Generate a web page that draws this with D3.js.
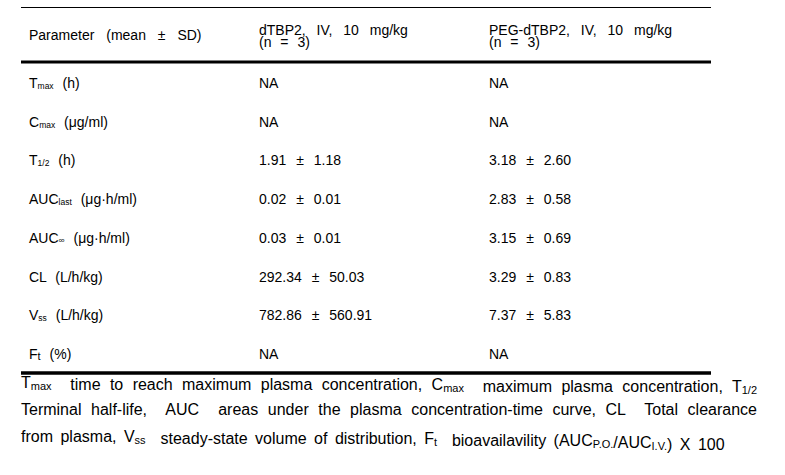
<!DOCTYPE html>
<html>
<head>
<meta charset="utf-8">
<script src="https://cdn.jsdelivr.net/npm/d3@7"></script>
<style>
  body { margin: 0; background: #fff; }
  text { font-family: "Liberation Sans", Arial, sans-serif; fill: #000; }
</style>
</head>
<body>
<div id="vis"></div>
<script>
// table content
var paramBase = ["T", "C", "T", "AUC", "AUC", "CL", "V", "F"];
var paramSub  = ["max", "max", "1/2", "last", "\u221e", "", "ss", "t"];
var paramUnit = ["(h)", "(\u03bcg/ml)", "(h)", "(\u03bcg\u00b7h/ml)", "(\u03bcg\u00b7h/ml)", "(L/h/kg)", "(L/h/kg)", "(%)"];
var dTBP2 = ["NA", "NA", "1.91 \u00b1 1.18", "0.02 \u00b1 0.01", "0.03 \u00b1 0.01", "292.34 \u00b1 50.03", "782.86 \u00b1 560.91", "NA"];
var pegTBP2 = ["NA", "NA", "3.18 \u00b1 2.60", "2.83 \u00b1 0.58", "3.15 \u00b1 0.69", "3.29 \u00b1 0.83", "7.37 \u00b1 5.83", "NA"];
var headers = [["Parameter (mean \u00b1 SD)"], ["dTBP2, IV, 10 mg/kg", "(n = 3)"], ["PEG-dTBP2, IV, 10 mg/kg", "(n = 3)"]];

// footnote lines: arrays of [text, isSub]
var noteLines = [
  [["T",0],["max",1],["  time to reach maximum plasma concentration, C",0],["max",1],["  maximum plasma concentration, T",0],["1/2",1]],
  [["Terminal half-life,  AUC  areas under the plasma concentration-time curve, CL  Total clearance",0]],
  [["from plasma, V",0],["ss",1],["  steady-state volume of distribution, F",0],["t",1],["  bioavailavility (AUC",0],["P.O.",1],["/AUC",0],["I.V.",1],[") X 100",0]]
];

var W = 785, H = 475;
var svg = d3.select("#vis").append("svg").attr("width", W).attr("height", H);

var colX = d3.scaleOrdinal().domain([0, 1, 2]).range([29, 259, 489]);
var rowY = d3.scaleLinear().domain([0, 7]).range([88, 359]);

// rules
svg.append("line").attr("x1", 21).attr("x2", 711).attr("y1", 7.5).attr("y2", 7.5)
    .attr("stroke", "#000").attr("stroke-width", 1);
svg.append("line").attr("x1", 21).attr("x2", 711).attr("y1", 62).attr("y2", 62)
    .attr("stroke", "#000").attr("stroke-width", 3);
svg.append("line").attr("x1", 21).attr("x2", 711).attr("y1", 373).attr("y2", 373)
    .attr("stroke", "#000").attr("stroke-width", 3.5);

// header
headers.forEach(function(h, i){
    var t = svg.append("text").attr("x", colX(i)).attr("font-size", 14)
        .style("word-spacing", i == 0 ? "8px" : "7px");
    if (h.length == 1) {
        t.attr("y", 40).text(h[0]);
    } else {
        t.attr("y", 35).text(h[0]);
        svg.append("text").attr("x", colX(i)).attr("y", 46.5).attr("font-size", 14)
            .style("word-spacing", "5px").text(h[1]);
    }
});

// rows
var rows = svg.selectAll("g.row").data(d3.range(paramBase.length)).enter()
    .append("g").attr("class", "row")
    .attr("transform", function(d){ return "translate(0," + rowY(d) + ")"; });

rows.each(function(d){
    var g = d3.select(this);
    var t = g.append("text").attr("x", colX(0)).attr("font-size", 14).style("word-spacing", "5px");
    t.append("tspan").text(paramBase[d]);
    if (paramSub[d] != "") {
        var inf = paramSub[d] == "\u221e";
        t.append("tspan").attr("font-size", paramSub[d] == "t" ? 11 : 8.5)
            .attr("dy", inf ? 0 : 1).text(paramSub[d]);
        t.append("tspan").attr("dy", inf ? 0 : -1).text(" " + paramUnit[d]);
    } else {
        t.append("tspan").text(" " + paramUnit[d]);
    }
    g.append("text").attr("x", colX(1)).attr("font-size", 14).style("word-spacing", "6px").text(dTBP2[d]);
    g.append("text").attr("x", colX(2)).attr("font-size", 14).style("word-spacing", "6px").text(pegTBP2[d]);
});

// footnote, first two lines justified
var note = svg.append("g").attr("class", "note");
var noteY = [388, 415, 442];
noteLines.forEach(function(line, i){
    var t = note.append("text").attr("x", 21).attr("y", noteY[i]).attr("font-size", 16)
        .attr("xml:space", "preserve");
    line.forEach(function(p){
        t.append("tspan").attr("font-size", p[1] ? 11 : 16)
            .attr("dy", p[1] ? 2 : 0)
            .text(p[0]);
        if (p[1]) t.append("tspan").attr("dy", -2).text("");
    });
    var spaces = line.map(function(p){ return p[0]; }).join("").split(" ").length - 1;
    if (i < 2) {
        var len = t.node().getComputedTextLength();
        var extra = (757 - 21 - len) / spaces;
        t.style("word-spacing", extra + "px");
    } else {
        t.style("word-spacing", "3px");
    }
});
</script>
</body>
</html>
